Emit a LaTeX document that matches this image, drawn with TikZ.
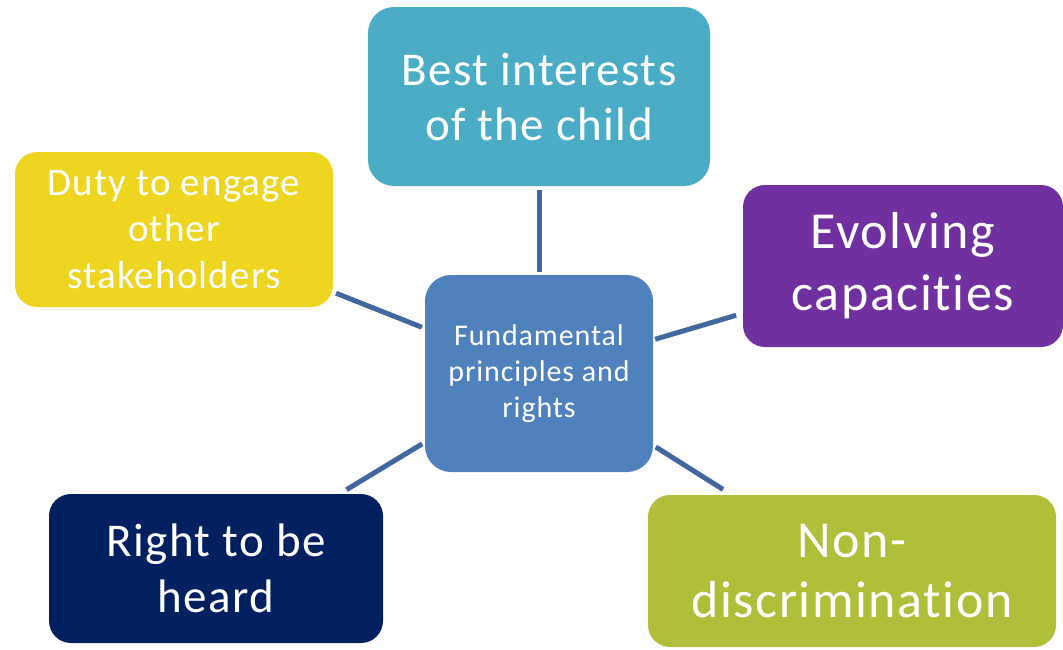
\documentclass[tikz,border=0pt]{standalone}
\usepackage{fontspec}
\setmainfont{Carlito}[Ligatures=NoCommon, LetterSpace=3]
\definecolor{cTop}{RGB}{75,172,198}
\definecolor{cCenter}{RGB}{79,129,189}
\definecolor{cYellow}{RGB}{238,213,32}
\definecolor{cPurple}{RGB}{112,48,160}
\definecolor{cNavy}{RGB}{0,32,96}
\definecolor{cGreen}{RGB}{177,190,57}
\definecolor{cLine}{RGB}{65,104,158}
\begin{document}
\begin{tikzpicture}[x=1pt,y=-1pt,
  box/.style={rounded corners=22pt, inner sep=0pt, align=center, text=white},
  conn/.style={draw=cLine, line width=5pt}]
\useasboundingbox (0,0) rectangle (1063,649);
\node[box, fill=cCenter, minimum width=228pt, minimum height=197pt, rounded corners=26pt,
  font=\fontsize{30}{36}\selectfont] (c) at (539,373.5) {Fundamental\\principles and\\rights};
\node[box, fill=cTop, minimum width=342pt, minimum height=179pt, rounded corners=26pt,
  font=\fontsize{47}{55}\selectfont] (top) at (539,96.5) {Best interests\\of the child};
\node[box, fill=cYellow, minimum width=318pt, minimum height=155pt,
  font=\fontsize{39}{46.5}\selectfont] (yel) at (174,229.5) {Duty to engage\\other\\stakeholders};
\node[box, fill=cPurple, minimum width=320pt, minimum height=162pt,
  font=\fontsize{52}{62}\selectfont] (pur) at (903,266) {Evolving\\capacities};
\node[box, fill=cNavy, minimum width=334pt, minimum height=149pt,
  font=\fontsize{47}{56}\selectfont] (nav) at (216,568.5) {Right to be\\heard};
\node[box, fill=cGreen, minimum width=408pt, minimum height=152pt,
  font=\fontsize{52}{60}\selectfont] (grn) at (852,571) {Non-\\discrimination};
\draw[conn, shorten <=3pt, shorten >=4pt] (c) -- (top);
\draw[conn, shorten <=3pt, shorten >=3pt] (c) -- (yel);
\draw[conn, shorten <=2pt, shorten >=7pt] (c) -- (pur);
\draw[conn, shorten <=3pt, shorten >=8pt] (c) -- (nav);
\draw[conn, shorten <=3pt, shorten >=10pt] (c) -- (grn);
\end{tikzpicture}
\end{document}
